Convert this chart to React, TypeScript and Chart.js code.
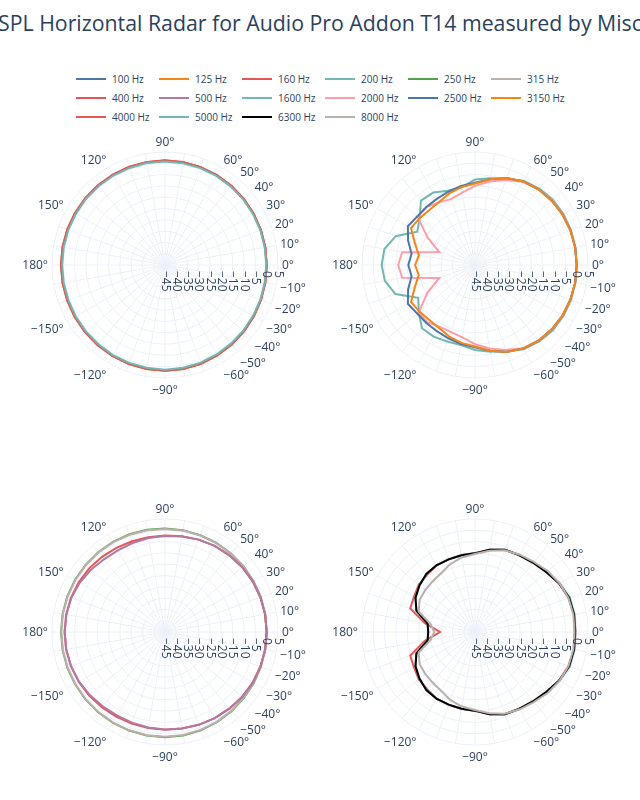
import React, { useEffect, useRef } from "react";
import { Chart, registerables } from "chart.js";
Chart.register(...registerables);

const TITLE = "SPL Horizontal Radar for Audio Pro Addon T14 measured by Misc";

// measurement angles (degrees, counter-clockwise from on-axis)
const ANGLES = [0, 10, 20, 30, 40, 50, 60, 70, 80, 90, 100, 110, 120, 130, 140, 150, 160, 170, 180,
  -170, -160, -150, -140, -130, -120, -110, -100, -90, -80, -70, -60, -50, -40, -30, -20, -10];
const ANGLE_TICKS = [0, 10, 20, 30, 40, 50, 60, 90, 120, 150, 180, -150, -120, -90, -60, -50, -40, -30, -20, -10];
const R_TICKS = [-45, -40, -35, -30, -25, -20, -15, -10, -5, 0, 5];
const R_MIN = -45;
const R_MAX = 5;

// SPL (dB) per angle, same order as ANGLES
const F100 = [0, 0, 0.1, 0.2, 0.4, 0.6, 0.8, 1.0, 1.1, 1.1, 1.1, 1.1, 1.0, 1.0, 0.9, 0.9, 0.9, 0.9, 0.9, 0.9, 0.9, 1.0, 1.1, 1.2, 1.4, 1.5, 1.6, 1.7, 1.6, 1.4, 1.1, 0.8, 0.5, 0.3, 0.1, 0];
const F125 = [0, 0.05, 0.15, 0.3, 0.5, 0.7, 0.9, 1.1, 1.2, 1.2, 1.2, 1.2, 1.1, 1.1, 1.0, 1.0, 1.0, 1.0, 1.0, 1.0, 1.0, 1.1, 1.2, 1.3, 1.5, 1.6, 1.7, 1.8, 1.7, 1.5, 1.2, 0.9, 0.6, 0.4, 0.2, 0.05];
const F160 = [0, 0.1, 0.2, 0.35, 0.55, 0.75, 0.95, 1.1, 1.25, 1.3, 1.3, 1.25, 1.2, 1.1, 1.05, 1.0, 1.0, 1.05, 1.05, 1.05, 1.05, 1.1, 1.2, 1.35, 1.5, 1.65, 1.75, 1.8, 1.75, 1.55, 1.25, 0.95, 0.65, 0.4, 0.2, 0.1];
const F200 = [-0.2, -0.2, -0.1, 0, 0.2, 0.3, 0.5, 0.6, 0.7, 0.8, 0.8, 0.7, 0.7, 0.6, 0.6, 0.5, 0.5, 0.5, 0.5, 0.5, 0.5, 0.6, 0.7, 0.8, 1.0, 1.1, 1.2, 1.3, 1.2, 1.0, 0.7, 0.4, 0.2, 0, -0.1, -0.2];
const F250 = [0, 0, 0.1, 0.2, 0.3, 0.4, 0.5, 0.6, 0.7, 0.8, 0.9, 1.0, 1.0, 1.0, 1.0, 1.0, 1.0, 1.0, 1.0, 1.0, 1.0, 1.0, 1.1, 1.2, 1.3, 1.4, 1.5, 1.6, 1.5, 1.3, 1.0, 0.8, 0.5, 0.3, 0.1, 0];
const F315 = [0, 0, 0.1, 0.1, 0.2, 0.3, 0.4, 0.5, 0.6, 0.6, 0.7, 0.8, 0.9, 0.9, 0.9, 0.9, 0.9, 0.9, 0.9, 0.9, 0.9, 0.9, 1.0, 1.1, 1.2, 1.3, 1.4, 1.4, 1.3, 1.1, 0.9, 0.6, 0.4, 0.2, 0.1, 0];
const F400 = [0, 0, -0.1, -0.2, -0.4, -0.7, -1.0, -1.5, -2.0, -2.3, -2.4, -2.3, -2.0, -1.6, -1.2, -0.9, -0.7, -0.6, -0.6, -0.6, -0.7, -0.9, -1.2, -1.5, -1.8, -1.9, -1.9, -1.8, -1.6, -1.3, -1.0, -0.7, -0.4, -0.2, -0.1, 0];
const F500 = [0, 0, -0.1, -0.2, -0.4, -0.7, -1.0, -1.5, -2.1, -2.5, -2.8, -3.1, -3.3, -3.0, -2.2, -1.4, -0.9, -0.7, -0.6, -0.6, -0.8, -1.1, -1.6, -2.1, -2.4, -2.3, -2.1, -1.9, -1.6, -1.3, -1.0, -0.7, -0.4, -0.2, -0.1, 0];
const F1600 = [0, 0.1, 0.2, 0.2, 0, -0.8, -2, -4.5, -6, -7.2, -10.2, -10, -8, -7.8, -13, -15.5, -7.7, -4.3, -3.7, -4.5, -7.5, -16, -12.5, -8.5, -8.4, -9, -9, -7.4, -6, -4.5, -2, -0.8, 0, 0.2, 0.2, 0.1];
const F2000 = [0, 0, 0, -0.2, -0.5, -1.3, -2.5, -5, -7.5, -10, -12.5, -14, -13, -11.6, -12, -20.8, -28.2, -12.3, -11, -12.3, -28.2, -20.8, -12.5, -12, -13.5, -13.5, -12.5, -10, -7.5, -5, -2.5, -1.3, -0.5, -0.2, 0, 0];
const F2500 = [0, 0, -0.1, -0.3, -0.7, -1.3, -2.3, -4, -6.5, -8.6, -9.5, -10.5, -11.2, -11.5, -11.6, -10.7, -13.5, -16.5, -15.5, -16.5, -13.5, -10.7, -11.6, -11.5, -11.2, -10.5, -9.5, -8.6, -6.5, -4, -2.3, -1.3, -0.7, -0.3, -0.1, 0];
const F3150 = [0, 0, -0.1, -0.3, -0.7, -1.3, -2.3, -4, -6.5, -8.9, -10, -11.4, -12.9, -13.4, -12.9, -12.3, -16.7, -19.8, -18.5, -19.7, -16.7, -12.3, -12.9, -13.4, -12.9, -11.4, -10, -8.9, -6.5, -4, -2.3, -1.3, -0.7, -0.3, -0.1, 0];
const F4000 = [-0.5, -0.5, -1, -2, -3.5, -4.8, -5.6, -6.3, -8, -10, -10.5, -10.8, -11, -12, -12.5, -13.8, -14.5, -22.5, -29.5, -22.5, -14.5, -13.8, -12.5, -12, -11, -10.8, -10.5, -10, -8, -6.3, -5.6, -4.8, -3.5, -2, -1, -0.5];
const F5000 = [-0.6, -0.3, -0.4, -1.7, -3.5, -4.8, -5.7, -6.3, -8, -10.2, -10.5, -10.8, -10.9, -11.5, -12.9, -14.6, -17.4, -23.7, -24.3, -23.7, -17.4, -14.6, -12.9, -11.5, -10.9, -10.8, -10.5, -10.2, -8, -6.3, -5.7, -4.8, -3.5, -1.7, -0.4, -0.3];
const F6300 = [-0.8, -0.5, -0.7, -2, -3.8, -5, -5.8, -6.3, -8, -10.2, -10.5, -10.8, -10.9, -11.5, -12.9, -14.6, -17.4, -23.7, -24.3, -23.7, -17.4, -14.6, -12.9, -11.5, -10.9, -10.8, -10.5, -10.2, -8, -6.3, -5.8, -5, -3.8, -2, -0.7, -0.5];
const F8000 = [-1, -0.8, -1, -1.8, -3, -4.5, -5.5, -6.5, -8.5, -10.5, -11.5, -13, -15, -15.8, -16.2, -16.7, -18.5, -25, -27, -25, -18.5, -16.7, -16.2, -15.8, -15, -13, -11.5, -10.5, -8.5, -6.5, -5.5, -4.5, -3, -1.8, -1, -0.8];

const NAMES = ["100 Hz", "125 Hz", "160 Hz", "200 Hz", "250 Hz", "315 Hz", "400 Hz", "500 Hz",
  "1600 Hz", "2000 Hz", "2500 Hz", "3150 Hz", "4000 Hz", "5000 Hz", "6300 Hz", "8000 Hz"];
const VALUES = [F100, F125, F160, F200, F250, F315, F400, F500, F1600, F2000, F2500, F3150, F4000, F5000, F6300, F8000];
const COLORS = ["#4C78A8", "#F58518", "#E45756", "#72B7B2", "#54A24B", "#BAB0AC", "#E45756", "#B279A2",
  "#72B7B2", "#FF9DA6", "#4C78A8", "#F58518", "#E45756", "#72B7B2", "#000000", "#BAB0AC"];
// which subplot each series goes to: 0 TL, 1 TR, 2 BL, 3 BR
const PANEL = [0, 0, 0, 0, 2, 2, 2, 2, 1, 1, 1, 1, 3, 3, 3, 3];

const TEXT = "#2a3f5f";
const GRID = "#EBF0F8";
const FONT = "'Open Sans', verdana, arial, sans-serif";
const CANVAS = 300;
const RADIUS = 113;
const PANEL_POS = [
  { cx: 165, cy: 265 },
  { cx: 475, cy: 265 },
  { cx: 165, cy: 632 },
  { cx: 475, cy: 632 },
];

// Chart.js radar runs clockwise; build clockwise order starting at 0° (right side)
const CW_ANGLES = ANGLES.map((_, i) => {
  let a = -10 * i;
  if (a <= -180) a += 360;
  return a;
});

function fmtAngle(a: number) {
  return (a < 0 ? "\u2212" + Math.abs(a) : String(a)) + "°";
}
function fmtNum(v: number) {
  return v < 0 ? "\u2212" + Math.abs(v) : String(v);
}

const labelPlugin = {
  id: "polarLabels",
  afterDraw(chart: any) {
    const s = chart.scales.r;
    const ctx = chart.ctx;
    const cx = s.xCenter;
    const cy = s.yCenter;
    const R = s.drawingArea;
    ctx.save();
    ctx.fillStyle = TEXT;
    // angular tick labels
    const fs = 12;
    ctx.font = `${fs}px ${FONT}`;
    const pad = 4;
    ANGLE_TICKS.forEach((a) => {
      const rad = (a * Math.PI) / 180;
      const c = Math.cos(rad);
      const sn = Math.sin(rad);
      const x = cx + c * (R + pad);
      const ff = sn > 0 ? 0.2 : 1;
      const y = cy - sn * R - sn * (pad + fs * ff) + Math.abs(c) * fs * 0.35;
      ctx.textAlign = Math.abs(c) < 0.1 ? "center" : c > 0 ? "left" : "right";
      ctx.textBaseline = "alphabetic";
      ctx.fillText(fmtAngle(a), x, y);
    });
    // radial tick labels, rotated, below the 0° axis
    ctx.font = `${fs}px ${FONT}`;
    R_TICKS.forEach((v) => {
      const d = s.getDistanceFromCenterForValue(v);
      ctx.save();
      ctx.translate(cx + d, cy + 6);
      ctx.rotate(Math.PI / 2);
      ctx.textAlign = "left";
      ctx.textBaseline = "middle";
      ctx.fillText(fmtNum(v), 0, 0);
      ctx.restore();
    });
    ctx.restore();
  },
};

function Polar({ panel }: { panel: number }) {
  const ref = useRef<HTMLCanvasElement | null>(null);
  useEffect(() => {
    if (!ref.current) return;
    const idx = NAMES.map((_, i) => i).filter((i) => PANEL[i] === panel);
    const datasets = idx
      .map((i) => ({
        label: NAMES[i],
        data: CW_ANGLES.map((a) => VALUES[i][ANGLES.indexOf(a)]),
        borderColor: COLORS[i],
        backgroundColor: COLORS[i],
        borderWidth: 2,
        fill: false,
        pointRadius: 0,
        tension: 0,
      }))
      .reverse();
    const pad = CANVAS / 2 - RADIUS;
    const chart = new Chart(ref.current, {
      type: "radar",
      data: { labels: CW_ANGLES.map(fmtAngle), datasets },
      options: {
        responsive: false,
        animation: false,
        devicePixelRatio: 1,
        layout: { padding: pad },
        plugins: { legend: { display: false }, tooltip: { enabled: false }, title: { display: false } },
        scales: {
          r: {
            min: R_MIN,
            max: R_MAX,
            startAngle: 90,
            ticks: { display: false, stepSize: 5 },
            grid: { circular: true, color: GRID, lineWidth: 1 },
            angleLines: { color: GRID, lineWidth: 1 },
            pointLabels: { display: false },
          },
        },
      },
      plugins: [labelPlugin],
    } as any);
    return () => chart.destroy();
  }, [panel]);
  const p = PANEL_POS[panel];
  return (
    <canvas
      ref={ref}
      width={CANVAS}
      height={CANVAS}
      style={{ position: "absolute", left: p.cx - CANVAS / 2, top: p.cy - CANVAS / 2, width: CANVAS, height: CANVAS }}
    />
  );
}

export default function App() {
  return (
    <div style={{ position: "absolute", left: 0, top: 0, width: 640, height: 800, overflow: "hidden", background: "#fff", fontFamily: FONT }}>
      <div style={{ position: "absolute", left: -200, width: 1040, top: 8, textAlign: "center", fontSize: 21.3, color: TEXT, whiteSpace: "nowrap", lineHeight: "30px" }}>
        {TITLE}
      </div>
      {NAMES.map((n, i) => {
        const col = i % 6;
        const row = Math.floor(i / 6);
        const x = 76 + col * 83;
        const y = 79 + row * 19;
        return (
          <div key={n} style={{ position: "absolute", left: x, top: y - 8, height: 16, display: "flex", alignItems: "center" }}>
            <div style={{ width: 30, height: 2, background: COLORS[i] }} />
            <span style={{ marginLeft: 6, fontSize: 10, color: TEXT, whiteSpace: "nowrap" }}>{n}</span>
          </div>
        );
      })}
      {[0, 1, 2, 3].map((p) => (
        <Polar key={p} panel={p} />
      ))}
    </div>
  );
}
